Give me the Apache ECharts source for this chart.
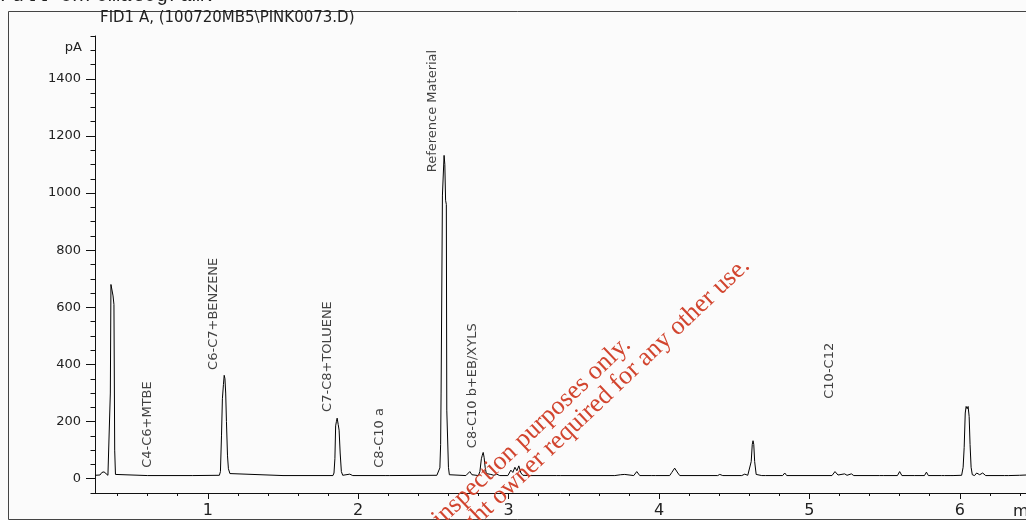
<!DOCTYPE html>
<html><head><meta charset="utf-8">
<script src="https://cdn.jsdelivr.net/npm/echarts@6/dist/echarts.min.js"></script>
<style>html,body{margin:0;padding:0;background:#fbfbfb}#c{width:1026px;height:520px}</style>
</head><body><div id="c"></div>
<script>
// Chromatogram trace (retention time, min) and signal (pA)
const traceTime = [0.250,0.283,0.296,0.310,0.323,0.336,0.346,0.352,0.356,0.363,0.370,0.376,0.381,0.386,0.396,0.600,0.900,
  1.077,1.084,1.091,1.097,1.104,1.109,1.114,1.119,1.124,1.131,1.137,1.147,1.160,1.500,
  1.832,1.839,1.845,1.850,1.855,1.860,1.867,1.873,1.880,1.888,1.897,1.910,1.944,1.964,
  2.184,2.197,2.210,2.523,2.532,2.543,2.548,2.551,2.555,2.560,2.568,2.571,2.576,2.581,2.586,2.589,2.594,2.600,2.606,2.616,
  2.716,2.729,2.742,2.756,2.769,2.799,2.809,2.819,2.825,2.831,2.837,2.844,2.852,2.862,2.882,2.902,2.921,2.941,
  2.995,3.015,3.028,3.042,3.055,3.068,3.082,3.095,3.141,3.317,3.329,3.347,3.706,3.719,3.745,3.772,3.785,3.832,3.852,3.872,
  3.952,3.965,3.978,4.071,4.085,4.104,4.125,4.138,4.390,4.404,4.424,4.550,4.570,4.590,4.603,4.613,4.620,4.625,4.630,4.636,4.646,4.656,
  4.683,4.696,4.709,4.822,4.836,4.849,5.150,5.170,5.190,5.234,5.250,5.279,5.295,5.465,5.478,5.491,5.585,5.600,5.615,5.700,5.711,5.722,
  5.765,5.778,5.791,5.878,5.888,5.898,5.935,5.944,5.955,6.012,6.022,6.029,6.036,6.042,6.049,6.055,6.062,6.068,6.075,6.083,6.098,
  6.112,6.132,6.152,6.172,6.298,6.311,6.325,6.397,6.440];
const tracePA = [12,13,22,24,20,12,12,300,680,685,640,610,100,15,11,11,11,
  12,25,150,280,330,362,350,300,200,80,35,18,11,11,
  11,20,70,185,200,212,190,170,90,25,12,9,16,11,
  11,17,11,12,14,38,120,300,300,993,1000,1132,1100,975,960,240,235,40,14,11,
  11,14,25,14,11,11,25,70,82,92,75,40,18,12,15,12,16,11,
  11,30,22,40,28,45,20,12,11,11,17,11,11,15,14,15,11,11,25,11,
  11,16,11,11,22,37,20,11,11,15,11,11,16,12,14,60,120,133,120,60,15,11,
  11,18,11,11,20,11,11,25,13,17,12,17,11,11,17,11,11,25,11,11,17,11,
  11,23,11,11,17,11,11,17,11,12,40,110,230,253,245,253,218,120,40,14,11,
  20,14,20,11,11,16,11,12,13];

// Peak group annotations: name, retention time (min), label base height (pA)
const peakNames = ["C4-C6+MTBE","C6-C7+BENZENE","C7-C8+TOLUENE","C8-C10 a","Reference Material","C8-C10 b+EB/XYLS","C10-C12"];
const peakTimes = [0.602,1.041,1.798,2.144,2.496,2.762,5.135];
const peakLabelPA = [38,381,234,38,1073,107,280];

// Axis ticks
const xMajorTicks = [1,2,3,4,5,6];
const yMajorTicks = [0,200,400,600,800,1000,1200,1400];
const xRange = [0.25, 6.44];
const yRange = [-50, 1550];

const xMinorTicks = [];
for (let i = 2; i <= 32; i++) if (i % 5) xMinorTicks.push(+(i * 0.2).toFixed(1));
const yMinorTicks = [];
for (let v = yRange[0]; v <= yRange[1]; v += 50) if (v % 200) yMinorTicks.push(v);

const axisColor = '#111';
const textColor = '#222';
const F = '"DejaVu Sans", sans-serif';

const chart = echarts.init(document.getElementById('c'), null, {renderer: 'canvas'});
const deg = Math.PI / 180;
const wmAngle = 43.5 * deg;

chart.setOption({
  animation: false,
  backgroundColor: '#fbfbfb',
  grid: {left: 95, right: 0, top: 36, bottom: 27, containLabel: false, outerBoundsMode: 'none'},
  xAxis: [
    {type: 'value', min: xRange[0], max: xRange[1], position: 'bottom',
     axisLine: {show: true, onZero: false, lineStyle: {color: axisColor, width: 1}},
     axisTick: {show: true, length: 6, customValues: xMajorTicks, lineStyle: {color: axisColor}},
     axisLabel: {show: true, customValues: xMajorTicks, formatter: v => String(v), fontSize: 16, fontFamily: F, color: textColor, margin: 10},
     splitLine: {show: false}},
    {type: 'value', min: xRange[0], max: xRange[1], position: 'bottom',
     axisLine: {show: false, onZero: false},
     axisTick: {show: true, length: 3, customValues: xMinorTicks, lineStyle: {color: axisColor}},
     axisLabel: {show: false}, splitLine: {show: false}}
  ],
  yAxis: [
    {type: 'value', min: yRange[0], max: yRange[1], position: 'left',
     axisLine: {show: true, onZero: false, lineStyle: {color: axisColor, width: 1}},
     axisTick: {show: true, length: 9, customValues: yMajorTicks, lineStyle: {color: axisColor}},
     axisLabel: {show: true, customValues: yMajorTicks, formatter: v => String(v), fontSize: 13, fontFamily: F, color: textColor, margin: 14},
     splitLine: {show: false}},
    {type: 'value', min: yRange[0], max: yRange[1], position: 'left',
     axisLine: {show: false, onZero: false},
     axisTick: {show: true, length: 4.5, customValues: yMinorTicks, lineStyle: {color: axisColor}},
     axisLabel: {show: false}, splitLine: {show: false}}
  ],
  series: [
    {type: 'line', xAxisIndex: 0, yAxisIndex: 0,
     data: traceTime.map((t, i) => [t, tracePA[i]]),
     showSymbol: false, symbol: 'none', smooth: false, silent: true,
     lineStyle: {color: '#000', width: 1}},
    {type: 'scatter', xAxisIndex: 0, yAxisIndex: 0, symbolSize: 0, silent: true,
     data: peakTimes.map((t, i) => ({name: peakNames[i], value: [t, peakLabelPA[i]]})),
     label: {show: true, formatter: '{b}', position: 'right', distance: 0, rotate: 90,
             align: 'left', verticalAlign: 'middle', fontSize: 13, fontFamily: F, color: '#111'}}
  ],
  graphic: [
    {type: 'rect', z: 0, shape: {x: 8.5, y: 11.5, width: 1100, height: 508},
     style: {fill: 'none', stroke: '#444', lineWidth: 1}},
    {type: 'text', x: 0, y: 6, z: 5,
     style: {text: 'Full chromatogram:', font: '20px "Liberation Mono", monospace', fill: textColor, align: 'left', verticalAlign: 'bottom'}},
    {type: 'text', x: 100, y: 11, z: 5,
     style: {text: 'FID1 A, (100720MB5\\PINK0073.D)', font: '15px ' + F, fill: textColor, align: 'left', verticalAlign: 'top'}},
    {type: 'text', x: 82, y: 48, z: 5,
     style: {text: 'pA', font: '13px ' + F, fill: textColor, align: 'right', verticalAlign: 'middle'}},
    {type: 'text', x: 1013, y: 512, z: 5,
     style: {text: 'min', font: '16px ' + F, fill: textColor, align: 'left', verticalAlign: 'middle'}},
    {type: 'text', x: 636, y: 350.5, rotation: wmAngle, z: 100,
     style: {text: 'For inspection purposes only.', font: '26px "Liberation Serif", serif', fill: '#d2452f', align: 'right', verticalAlign: 'bottom'}},
    {type: 'text', x: 755, y: 271.5, rotation: wmAngle, z: 100,
     style: {text: 'Consent of copyright owner required for any other use.', font: '26px "Liberation Serif", serif', fill: '#d2452f', align: 'right', verticalAlign: 'bottom'}}
  ]
});
</script>
</body></html>
